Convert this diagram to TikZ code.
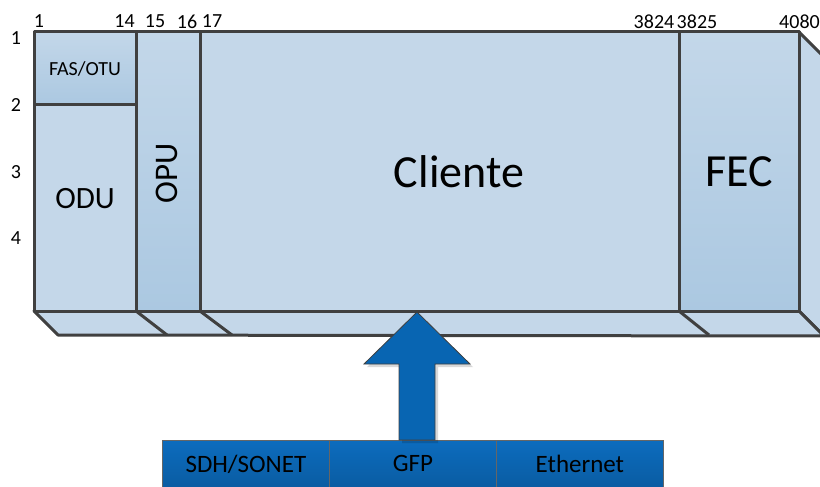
\documentclass[tikz,border=0pt]{standalone}
\usepackage{fontspec}
\setmainfont{Carlito}
\usetikzlibrary{shadows}
\definecolor{lightfill}{HTML}{C4D7E9}
\definecolor{darkfilltop}{HTML}{C3D7E9}
\definecolor{darkfillbot}{HTML}{ABC8E1}
\definecolor{edge}{HTML}{404040}
\definecolor{bluetop}{HTML}{0C6CBE}
\definecolor{bluebot}{HTML}{0A5CA2}
\definecolor{arrowblue}{HTML}{0865B2}
\tikzset{
  frame/.style={draw=edge, line width=3pt, line join=round},
  lightpanel/.style={frame, fill=lightfill},
  darkpanel/.style={frame, top color=darkfilltop, bottom color=darkfillbot},
  panel/.style={rectangle, anchor=north west, inner sep=0pt, outer sep=0pt},
  idx/.style={font=\fontsize{20}{20}\selectfont, inner sep=0pt},
  bluebox/.style={rectangle, anchor=north west, inner sep=0pt, draw=edge!80, line width=0.8pt,
     top color=bluetop, bottom color=bluebot, minimum height=47pt, minimum width=167pt,
     font=\fontsize{25}{25}\selectfont},
}
\begin{document}
\begin{tikzpicture}[x=1pt,y=-1pt]
\useasboundingbox (0,0) rectangle (820,487);
\clip (0,0) rectangle (820,487);
% right side face and bottom face
\path[lightpanel] (799,32) -- (824,57) -- (824,336) -- (799,311) -- cycle;
\path[lightpanel] (34,311) -- (799,311) -- (824,336) -- (58,335) -- cycle;
\draw[frame] (136,311) -- (167,335);
\draw[frame] (200,311) -- (232,335);
\draw[frame] (679,311) -- (709,335);
% front panels
\node[panel, lightpanel, minimum width=102pt, minimum height=206pt] (odu) at (34,105) {};
\node[panel, darkpanel, minimum width=102pt, minimum height=73pt, font=\fontsize{20}{20}\selectfont] (fas) at (34,32) {FAS/OTU};
\node[panel, darkpanel, minimum width=64pt, minimum height=279pt] (opu) at (136,32) {};
\node[panel, lightpanel, minimum width=479pt, minimum height=279pt] (cli) at (200,32) {};
\node[panel, darkpanel, minimum width=120pt, minimum height=279pt] (fec) at (679,32) {};
% panel texts
\node[font=\fontsize{31}{31}\selectfont, inner sep=0pt] (odut) at (85,199) {ODU};
\node[font=\fontsize{33}{33}\selectfont, inner sep=0pt, rotate=90] (oput) at (167,173) {OPU};
\node[font=\fontsize{46}{46}\selectfont, inner sep=0pt] (clit) at (459,172) {Cliente};
\node[font=\fontsize{46}{46}\selectfont, inner sep=0pt] (fect) at (739.5,172) {FEC};
% column indices
\node[idx] (c1) at (39,21.5) {1};
\node[idx] (c14) at (124.5,21.5) {14};
\node[idx] (c15) at (155,21.5) {15};
\node[idx] (c16) at (187,21.5) {16};
\node[idx] (c17) at (212,21.5) {17};
\node[idx] (c3824) at (654,21.5) {3824};
\node[idx] (c3825) at (697,21.5) {3825};
\node[idx] (c4080) at (799.5,21.5) {4080};
% row indices
\node[idx] (r1) at (16,38) {1};
\node[idx] (r2) at (16,105) {2};
\node[idx] (r3) at (16,172) {3};
\node[idx] (r4) at (16,238) {4};
% bottom boxes
\node[bluebox] (sdh) at (162,440) {SDH/SONET};
\node[bluebox] (gfp) at (329,440) {GFP};
\node[bluebox] (eth) at (496,440) {Ethernet};
% arrow from GFP to the frame
\coordinate (tip) at (417,312);
\path[fill=black, opacity=0.15] ([xshift=3pt,yshift=-3pt]tip) -- ++(53,52) -- ++(-35,0) -- ++(0,76) -- ++(-36,0) -- ++(0,-76) -- ++(-35,0) -- cycle;
\path[fill=arrowblue, draw=edge, line width=0.8pt, line join=miter] (tip) -- ++(53,52) -- ++(-35,0) -- (gfp.north -| 435,0) -- (gfp.north -| 399,0) -- (399,364) -- (364,364) -- cycle;
\end{tikzpicture}
\end{document}
